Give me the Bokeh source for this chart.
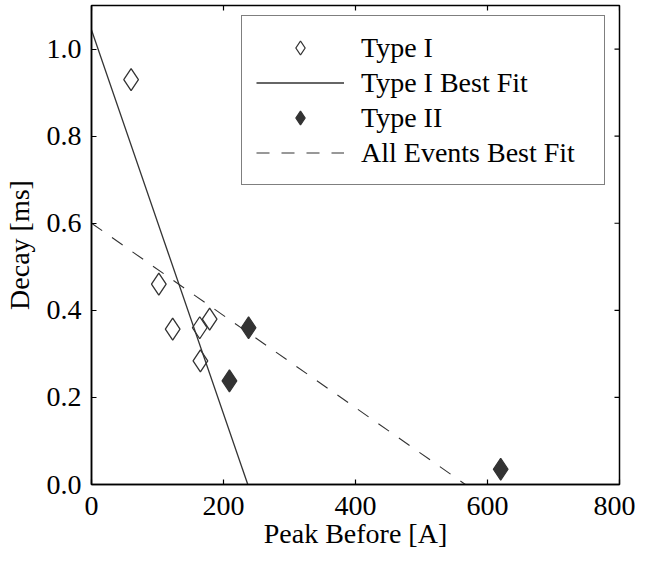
import math
from bokeh.plotting import figure
from bokeh.models import Range1d, Legend, LegendItem, FixedTicker, NumeralTickFormatter
from bokeh.embed import file_html
from bokeh.resources import INLINE

# Data
type1_x = [60, 102, 123, 164, 179, 165]
type1_y = [0.93, 0.46, 0.357, 0.36, 0.38, 0.284]
type2_x = [209, 238, 620]
type2_y = [0.238, 0.36, 0.035]
fit1_x = [0, 236.8]
fit1_y = [1.044, 0.0]
fitall_x = [0, 566.5]
fitall_y = [0.6, 0.0]
x_ticks = [0, 200, 400, 600, 800]
y_ticks = [0.0, 0.2, 0.4, 0.6, 0.8, 1.0]
x_max = 800
y_max = 1.1

FONT = "Liberation Serif"
FS = "28px"
C = "#333333"

p = figure(frame_width=528, frame_height=479, output_backend="svg", toolbar_location=None,
           x_range=Range1d(0, x_max), y_range=Range1d(0, y_max),
           min_border_left=85, min_border_right=16, min_border_top=5, min_border_bottom=62,
           background_fill_color="white", border_fill_color="white")
p.grid.visible = False
p.outline_line_color = "black"
p.outline_line_width = 1.5

def style(ax):
    ax.axis_line_color = "black"
    ax.axis_line_width = 1.5
    ax.major_tick_in = 5
    ax.major_tick_out = 0
    ax.minor_tick_in = 0
    ax.minor_tick_out = 0
    ax.major_tick_line_color = "black"
    ax.major_tick_line_width = 1.2
    ax.major_label_text_font = FONT
    ax.major_label_text_font_size = FS
    ax.major_label_text_color = "black"
    ax.axis_label_text_font = FONT
    ax.axis_label_text_font_size = FS
    ax.axis_label_text_font_style = "normal"
    ax.axis_label_text_color = "black"

p.xaxis.ticker = FixedTicker(ticks=x_ticks)
p.yaxis.ticker = FixedTicker(ticks=y_ticks)
p.yaxis.formatter = NumeralTickFormatter(format="0.0")
p.xaxis.axis_label = "Peak Before [A]"
p.yaxis.axis_label = "Decay [ms]"
style(p.xaxis[0])
style(p.yaxis[0])
p.xaxis.major_label_standoff = 12
p.yaxis.major_label_standoff = 10
p.xaxis.axis_label_standoff = 0
p.yaxis.axis_label_standoff = 9

# inward ticks on top and right edges (box style)
p.scatter(x_ticks, [y_max] * len(x_ticks), marker="dash", angle=math.pi / 2, size=10,
          line_color="black", line_width=1.2)
p.scatter([x_max] * len(y_ticks), y_ticks, marker="dash", size=10,
          line_color="black", line_width=1.2)

r1 = p.scatter(type1_x, type1_y, marker="diamond", size=22, fill_color="white",
               line_color=C, line_width=1.3)
r2 = p.line(fit1_x, fit1_y, line_color=C, line_width=1.3)
r3 = p.scatter(type2_x, type2_y, marker="diamond", size=22, fill_color=C,
               line_color=C, line_width=1.3)
r4 = p.line(fitall_x, fitall_y, line_color=C, line_width=1.1, line_dash="13 12")

legend = Legend(items=[
    LegendItem(label="Type I", renderers=[r1]),
    LegendItem(label="Type I Best Fit", renderers=[r2]),
    LegendItem(label="Type II", renderers=[r3]),
    LegendItem(label="All Events Best Fit", renderers=[r4]),
], location=(150, 299))
legend.label_text_font = FONT
legend.label_text_font_size = FS
legend.label_text_color = "black"
legend.glyph_width = 88
legend.glyph_height = 35
legend.label_height = 35
legend.label_width = 229
legend.label_standoff = 17
legend.spacing = 0
legend.padding = 14
legend.margin = 0
legend.border_line_color = "black"
legend.border_line_width = 1.5
legend.background_fill_alpha = 1.0
p.add_layout(legend)

open("out.html", "w").write(file_html(p, INLINE))
